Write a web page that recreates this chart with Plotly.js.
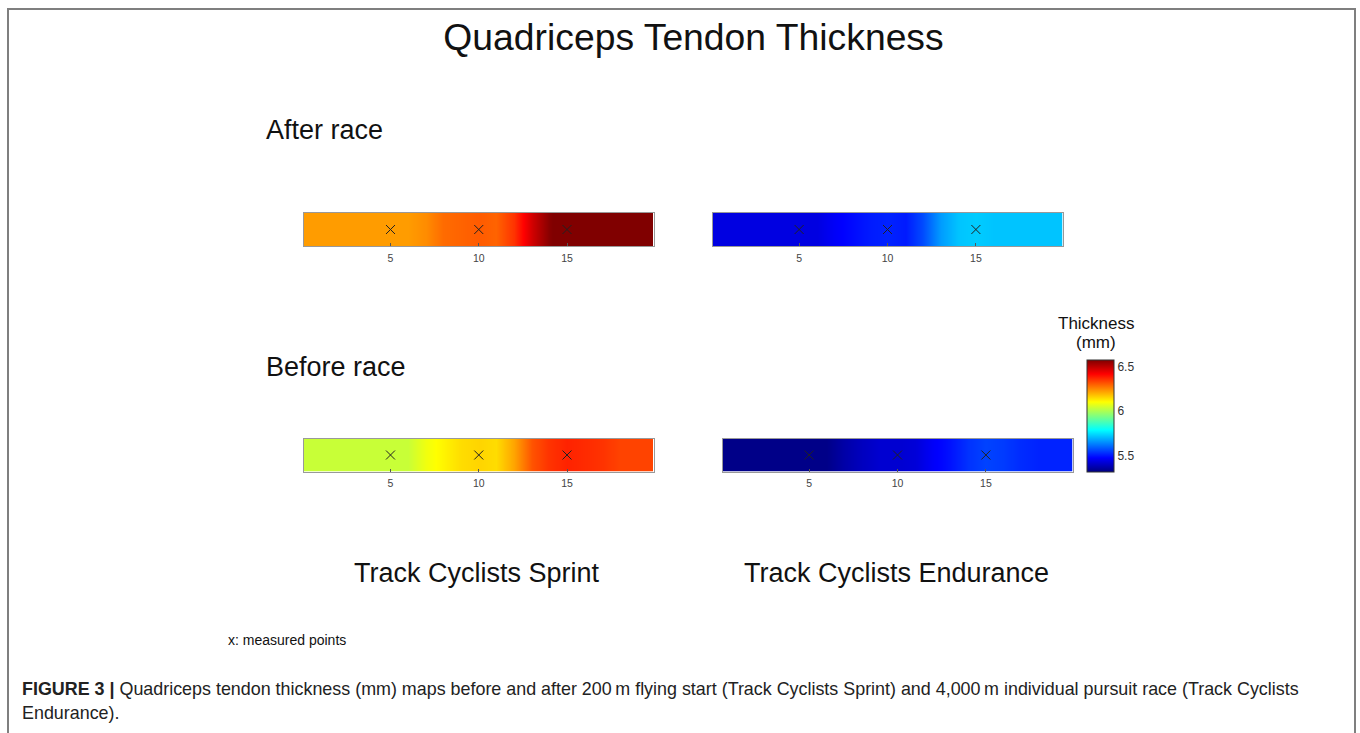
<!DOCTYPE html>
<html>
<head>
<meta charset="utf-8">
<script src="https://cdn.plot.ly/plotly-3.0.1.min.js"></script>
<style>html,body{margin:0;padding:0;background:#fff;}#chart{width:1360px;height:733px;}</style>
</head>
<body>
<div id="chart"></div>
<script>
// Positions along the tendon (mm-scale index) where thickness was read
const positions = [0,1,2,3,4,5,6,7,8,9,10,11,12,13,14,15,16,17,18,19,20];
// Thickness (mm)
const sprintAfter     = [6.23,6.23,6.23,6.23,6.23,6.23,6.23,6.25,6.29,6.30,6.31,6.30,6.36,6.48,6.57,6.62,6.60,6.60,6.60,6.60,6.60];
const enduranceAfter  = [5.44,5.44,5.44,5.44,5.44,5.44,5.44,5.47,5.49,5.51,5.52,5.51,5.57,5.67,5.72,5.73,5.72,5.72,5.72,5.72,5.72];
const sprintBefore    = [6.04,6.04,6.04,6.04,6.04,6.04,6.04,6.09,6.12,6.15,6.16,6.15,6.22,6.32,6.36,6.38,6.37,6.36,6.34,6.34,6.34];
const enduranceBefore = [5.33,5.33,5.33,5.33,5.33,5.33,5.33,5.37,5.40,5.42,5.42,5.43,5.47,5.50,5.54,5.56,5.55,5.53,5.52,5.52,5.52];
// Measured points
const measuredX = [5,10,15];
const tickVals = [5,10,15];
const tickLabels = ['5','10','15'];
const cbTickVals = [5.5,6,6.5];
const cbTickLabels = ['5.5','6','6.5'];

const W = 1360, H = 733;
const px = x => x / W;
const py = y => 1 - y / H;
const FONT = 'Liberation Sans, Arial, sans-serif';

const jet = [[0,'#000080'],[0.125,'#0000ff'],[0.375,'#00ffff'],[0.625,'#ffff00'],[0.875,'#ff0000'],[1,'#800000']];

const maps = [
  {z: sprintAfter,     xa: 'x',  ya: 'y'},
  {z: enduranceAfter,  xa: 'x2', ya: 'y2'},
  {z: sprintBefore,    xa: 'x3', ya: 'y3'},
  {z: enduranceBefore, xa: 'x4', ya: 'y4'}
];

const data = [];
maps.forEach(m => {
  data.push({
    type: 'heatmap', x: positions, y: [0,1], z: [m.z, m.z],
    coloraxis: 'coloraxis', zsmooth: 'best', xaxis: m.xa, yaxis: m.ya,
    hoverinfo: 'skip'
  });
});
maps.forEach(m => {
  data.push({
    type: 'scatter', mode: 'markers', x: measuredX, y: measuredX.map(() => 0.5),
    xaxis: m.xa, yaxis: m.ya, showlegend: false, hoverinfo: 'skip',
    marker: {symbol: 'x-thin-open', size: 9, color: '#222', line: {color: '#222', width: 1}}
  });
});

function xax(d0, d1, anchor) {
  return {
    domain: [px(d0), px(d1)], anchor: anchor, range: [0.1, 19.9],
    tickvals: tickVals, ticktext: tickLabels, ticks: 'inside', ticklen: 3, tickcolor: '#555',
    ticklabelstandoff: 2,
    showgrid: false, zeroline: false, showline: true, mirror: true, linecolor: '#999', linewidth: 1,
    tickfont: {family: FONT, size: 10.5, color: '#444'}, fixedrange: true
  };
}
function yax(t, b, anchor) {
  return {
    domain: [py(b), py(t)], anchor: anchor, range: [-0.5, 1.5],
    showticklabels: false, ticks: '', showgrid: false, zeroline: false,
    showline: true, mirror: true, linecolor: '#999', linewidth: 1, fixedrange: true
  };
}

const ann = (text, x, y, size, opts) => Object.assign({
  text: text, x: px(x), y: py(y), xref: 'paper', yref: 'paper', showarrow: false,
  xanchor: 'left', yanchor: 'middle', font: {family: FONT, size: size, color: '#111'}
}, opts || {});

const layout = {
  width: W, height: H, margin: {l: 0, r: 0, t: 0, b: 0},
  paper_bgcolor: '#fff', plot_bgcolor: '#fff', showlegend: false,
  title: {text: 'Quadriceps Tendon Thickness', x: px(693.5), xanchor: 'center', y: py(37), yanchor: 'middle',
          font: {family: FONT, size: 37.3, color: '#111'}},
  xaxis: xax(304, 653.5, 'y'),   yaxis: yax(213, 246, 'x'),
  xaxis2: xax(712.5, 1062.5, 'y2'), yaxis2: yax(213, 246, 'x2'),
  xaxis3: xax(304, 653.5, 'y3'), yaxis3: yax(438.5, 471.5, 'x3'),
  xaxis4: xax(722.5, 1072.5, 'y4'), yaxis4: yax(438.5, 471.5, 'x4'),
  coloraxis: {
    colorscale: jet, cmin: 5.32, cmax: 6.58,
    colorbar: {
      x: px(1087), xanchor: 'left', y: py(415.5), yanchor: 'middle',
      thickness: 27, thicknessmode: 'pixels', len: 112, lenmode: 'pixels',
      xpad: 0, ypad: 0, outlinewidth: 1, outlinecolor: '#333',
      tickvals: cbTickVals, ticktext: cbTickLabels, ticks: '', ticklabelpad: 5,
      tickfont: {family: FONT, size: 12, color: '#333'}
    }
  },
  shapes: [
    {type: 'rect', xref: 'paper', yref: 'paper', x0: px(8), x1: px(1355), y0: py(740), y1: py(9),
     line: {color: '#7f7f7f', width: 2}, fillcolor: 'rgba(0,0,0,0)'}
  ],
  annotations: [
    ann('After race', 264, 130, 27),
    ann('Before race', 264, 367, 27),
    ann('Track Cyclists Sprint', 477, 573, 27, {xanchor: 'center'}),
    ann('Track Cyclists Endurance', 896, 573, 27, {xanchor: 'center'}),
    ann('Thickness', 1096, 323, 17, {xanchor: 'center'}),
    ann('(mm)', 1096, 342, 17, {xanchor: 'center'}),
    ann('x: measured points', 226, 640, 14),
    ann('<b>FIGURE 3 |</b> Quadriceps tendon thickness (mm) maps before and after 200\u2009m flying start (Track Cyclists Sprint) and 4,000\u2009m individual pursuit race (Track Cyclists',
        20, 689, 17.9, {font: {family: FONT, size: 17.9, color: '#222'}}),
    ann('Endurance).', 20, 713, 17.9, {font: {family: FONT, size: 17.9, color: '#222'}})
  ]
};

Plotly.newPlot('chart', data, layout, {displayModeBar: false, staticPlot: true});
</script>
</body>
</html>
